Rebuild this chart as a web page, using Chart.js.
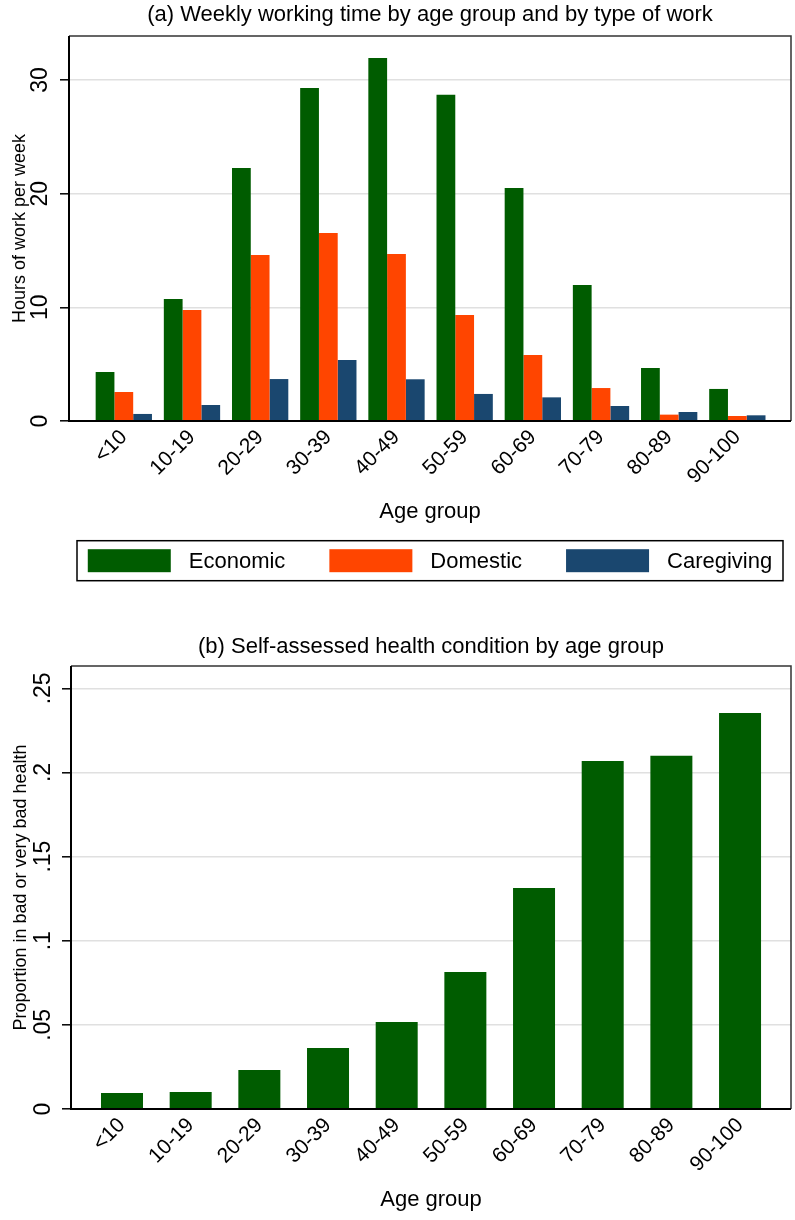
<!DOCTYPE html>
<html>
<head>
<meta charset="utf-8">
<script src="https://cdn.jsdelivr.net/npm/chart.js@4.4.1/dist/chart.umd.min.js"></script>
<style>
  html, body { margin: 0; padding: 0; background: #ffffff; }
  #page { position: relative; width: 795px; height: 1220px; }
  #page canvas { position: absolute; left: 0; }
  #workChart { top: 0; }
  #healthChart { top: 600px; }
</style>
</head>
<body>
<div id="page">
  <canvas id="workChart" width="795" height="600"></canvas>
  <canvas id="healthChart" width="795" height="620"></canvas>
</div>
<script>
// Age groups shared by both panels
const ageGroups = ['<10', '10-19', '20-29', '30-39', '40-49', '50-59', '60-69', '70-79', '80-89', '90-100'];

// Panel (a): mean hours of work per week, by type of work
const economicHours   = [4.31, 10.73, 22.26, 29.30, 31.93, 28.71, 20.50, 11.96, 4.66, 2.82];
const domesticHours   = [2.55, 9.77, 14.60, 16.54, 14.69, 9.33, 5.81, 2.90, 0.56, 0.44];
const caregivingHours = [0.62, 1.41, 3.69, 5.37, 3.67, 2.38, 2.08, 1.32, 0.79, 0.50];

// Panel (b): share reporting bad or very bad health
const badHealthShare = [0.0095, 0.0101, 0.0232, 0.0363, 0.0517, 0.0815, 0.1314, 0.2069, 0.2099, 0.2354];

// Y-axis ticks
const hoursTicks = [0, 10, 20, 30];
const hoursTickLabels = ['0', '10', '20', '30'];
const shareTicks = [0, 0.05, 0.1, 0.15, 0.2, 0.25];
const shareTickLabels = ['0', '.05', '.1', '.15', '.2', '.25'];

const GREEN = '#005c00';
const ORANGE = '#ff4500';
const NAVY = '#1a476f';
const FONT = '"Liberation Sans", Arial, Helvetica, sans-serif';

Chart.defaults.font.family = FONT;
Chart.defaults.color = '#000000';

const toPoints = values => values.map((v, i) => ({ x: i, y: v }));

// Plot region border: heavy left/bottom axes, thinner top/right frame
const plotFrame = {
  id: 'plotFrame',
  afterDatasetsDraw(chart) {
    const { ctx, chartArea: { left, top, right, bottom } } = chart;
    ctx.save();
    ctx.strokeStyle = '#333333';
    ctx.lineWidth = 1.5;
    ctx.beginPath();
    ctx.moveTo(left, top);
    ctx.lineTo(right, top);
    ctx.lineTo(right, bottom);
    ctx.stroke();
    ctx.strokeStyle = '#000000';
    ctx.lineWidth = 2;
    ctx.beginPath();
    ctx.moveTo(left, top);
    ctx.lineTo(left, bottom);
    ctx.lineTo(right, bottom);
    ctx.stroke();
    ctx.restore();
  }
};

// Boxed legend row under the x-axis title
const framedLegend = {
  id: 'framedLegend',
  afterDraw(chart, args, opts) {
    const { ctx, chartArea } = chart;
    const xScale = chart.scales.x;
    const frameL = chartArea.left + opts.inset;
    const frameR = chartArea.right - opts.inset;
    const frameT = xScale.bottom + opts.gap;
    const frameB = frameT + opts.height;
    const midY = (frameT + frameB) / 2;
    ctx.save();
    ctx.font = opts.fontSize + 'px ' + FONT;
    const items = chart.data.datasets.map(ds => ({
      label: ds.label,
      color: ds.backgroundColor,
      w: ctx.measureText(ds.label).width
    }));
    const total = items.reduce((s, it) => s + opts.boxWidth + opts.textGap + it.w, 0) + opts.itemGap * (items.length - 1);
    let x = (frameL + frameR) / 2 - total / 2;
    ctx.textBaseline = 'middle';
    ctx.textAlign = 'left';
    items.forEach(it => {
      ctx.fillStyle = it.color;
      ctx.fillRect(x, midY - opts.boxHeight / 2, opts.boxWidth, opts.boxHeight);
      ctx.fillStyle = '#000000';
      ctx.fillText(it.label, x + opts.boxWidth + opts.textGap, midY + 1.5);
      x += opts.boxWidth + opts.textGap + it.w + opts.itemGap;
    });
    ctx.strokeStyle = '#000000';
    ctx.lineWidth = 1.5;
    ctx.strokeRect(frameL, frameT, frameR - frameL, frameB - frameT);
    ctx.restore();
  }
};

function xAxis(min, max) {
  return {
    type: 'linear',
    min: min,
    max: max,
    bounds: 'data',
    offset: false,
    grid: { display: false, drawTicks: false, offset: false },
    border: { display: false },
    afterBuildTicks: scale => { scale.ticks = ageGroups.map((_, i) => ({ value: i })); },
    ticks: {
      autoSkip: false,
      minRotation: 45,
      maxRotation: 45,
      padding: 4,
      font: { size: 21 },
      color: '#000000',
      callback: value => ageGroups[value]
    },
    title: {
      display: true,
      text: 'Age group',
      font: { size: 22 },
      color: '#000000',
      padding: { top: 0, bottom: 0 }
    },
    afterFit: scale => { scale.height = 103.7; }
  };
}

function yAxis(max, ticks, labels, tickPad, title, titlePad, width) {
  return {
    type: 'linear',
    min: 0,
    max: max,
    bounds: 'data',
    grid: { color: '#e0e0e0', lineWidth: 1.6, tickColor: '#000000', tickWidth: 1.5, tickLength: 9 },
    border: { display: false },
    afterBuildTicks: scale => { scale.ticks = ticks.map(v => ({ value: v })); },
    ticks: {
      minRotation: 90,
      maxRotation: 90,
      crossAlign: 'center',
      padding: tickPad,
      font: { size: 23 },
      color: '#000000',
      callback: (value, index) => labels[index]
    },
    title: {
      display: true,
      text: title,
      font: { size: 18 },
      color: '#000000',
      padding: { top: titlePad, bottom: 0 }
    },
    afterFit: scale => { scale.width = width; }
  };
}

new Chart(document.getElementById('workChart'), {
  type: 'bar',
  data: {
    datasets: [
      { label: 'Economic',   data: toPoints(economicHours),   backgroundColor: GREEN },
      { label: 'Domestic',   data: toPoints(domesticHours),   backgroundColor: ORANGE },
      { label: 'Caregiving', data: toPoints(caregivingHours), backgroundColor: NAVY }
    ]
  },
  options: {
    responsive: false,
    animation: false,
    devicePixelRatio: 1,
    layout: { padding: { left: 0, right: 4, top: 0, bottom: 75.3 } },
    datasets: { bar: { categoryPercentage: 0.826, barPercentage: 1, borderWidth: 0 } },
    plugins: {
      legend: { display: false },
      tooltip: { enabled: false },
      title: {
        display: true,
        fullSize: false,
        text: '(a) Weekly working time by age group and by type of work',
        font: { size: 22, weight: 'normal' },
        color: '#000000',
        padding: { top: 2, bottom: 7.6 }
      },
      framedLegend: { inset: 8, gap: 16, height: 40, fontSize: 22, boxWidth: 83, boxHeight: 23, textGap: 18, itemGap: 44 }
    },
    scales: {
      x: xAxis(-0.804, 9.787),
      y: yAxis(33.87, hoursTicks, hoursTickLabels, 6.2, 'Hours of work per week', 9.2, 69)
    }
  },
  plugins: [plotFrame, framedLegend]
});

new Chart(document.getElementById('healthChart'), {
  type: 'bar',
  data: {
    datasets: [
      { label: 'Bad or very bad health', data: toPoints(badHealthShare), backgroundColor: GREEN }
    ]
  },
  options: {
    responsive: false,
    animation: false,
    devicePixelRatio: 1,
    layout: { padding: { left: 0, right: 4, top: 0, bottom: 7.3 } },
    datasets: { bar: { categoryPercentage: 0.6116, barPercentage: 1, borderWidth: 0 } },
    plugins: {
      legend: { display: false },
      tooltip: { enabled: false },
      title: {
        display: true,
        fullSize: false,
        text: '(b) Self-assessed health condition by age group',
        font: { size: 22, weight: 'normal' },
        color: '#000000',
        padding: { top: 33.7, bottom: 5.9 }
      }
    },
    scales: {
      x: xAxis(-0.7427, 9.742),
      y: yAxis(0.2633, shareTicks, shareTickLabels, 2.7, 'Proportion in bad or very bad health', 10, 71)
    }
  },
  plugins: [plotFrame]
});
</script>
</body>
</html>
